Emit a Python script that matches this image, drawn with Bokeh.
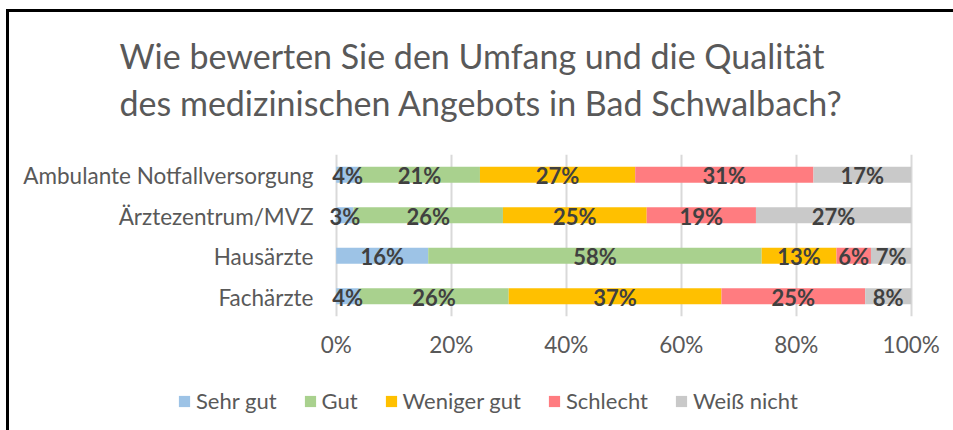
from bokeh.plotting import figure
from bokeh.layouts import column
from bokeh.models import (FactorRange, ColumnDataSource, LabelSet, Legend, LegendItem,
                          Title, FixedTicker, Range1d)
from bokeh.core.properties import value
from bokeh.embed import file_html
from bokeh.resources import INLINE

# ---- data ----
categories = ["Ambulante Notfallversorgung", "Ärztezentrum/MVZ", "Hausärzte", "Fachärzte"]
series = ["Sehr gut", "Gut", "Weniger gut", "Schlecht", "Weiß nicht"]
sehr_gut = [4, 3, 16, 4]
gut = [21, 26, 58, 26]
weniger_gut = [27, 25, 13, 37]
schlecht = [31, 19, 6, 25]
weiss_nicht = [17, 27, 7, 8]
colors = ["#9DC3E6", "#A9D18E", "#FFC000", "#FF7C80", "#C9C9C9"]
x_ticks = [0, 20, 40, 60, 80, 100]
x_tick_labels = ["0%", "20%", "40%", "60%", "80%", "100%"]
title_lines = ["Wie bewerten Sie den Umfang und die Qualität",
               "des medizinischen Angebots in Bad Schwalbach?"]

FONT = "Lato"
TXT = "#595959"

values = [sehr_gut, gut, weniger_gut, schlecht, weiss_nicht]
data = {"cat": categories}
for s, v in zip(series, values):
    data[s] = v
source = ColumnDataSource(data)

# frame spans the whole width left of the bars so the category texts fit inside it
PX_PER_UNIT = 5.75
ZERO_PX = 326.7
FRAME_W = 913
x_start = -ZERO_PX / PX_PER_UNIT
x_end = x_start + FRAME_W / PX_PER_UNIT

p = figure(width=944, height=372, output_backend="svg", toolbar_location=None,
           y_range=FactorRange(*reversed(categories)), x_range=(x_start, x_end),
           min_border_left=0, min_border_right=31, min_border_top=142,
           min_border_bottom=68)
p.outline_line_color = None
p.background_fill_color = "white"
p.border_fill_color = "white"

renderers = p.hbar_stack(series, y="cat", height=0.4, color=colors, source=source,
                         line_color=None)

# category texts (left of the 0% line)
cat_src = ColumnDataSource(dict(x=[0] * len(categories), y=categories, t=categories))
p.add_layout(LabelSet(x="x", y="y", text="t", source=cat_src, text_align="right",
                      text_baseline="middle", x_offset=-22.7, y_offset=-1,
                      text_font=value(FONT), text_font_size="22.5px", text_color=TXT))

# data labels
lx, ly, lt = [], [], []
for i, c in enumerate(categories):
    left = 0
    for v in values:
        val = v[i]
        lx.append(left + val / 2)
        ly.append(c)
        lt.append(f"{val}%")
        left += val
lab_src = ColumnDataSource(dict(x=lx, y=ly, t=lt))
p.add_layout(LabelSet(x="x", y="y", text="t", source=lab_src, text_align="center",
                      text_baseline="middle", text_font=value(FONT),
                      text_font_style="bold", text_font_size="22px",
                      text_color="#404040", y_offset=-1))

# axes
p.yaxis.visible = False
p.xaxis.ticker = FixedTicker(ticks=x_ticks)
p.xaxis.major_label_overrides = {t: l for t, l in zip(x_ticks, x_tick_labels)}
ax = p.xaxis[0]
ax.axis_line_color = None
ax.major_tick_line_color = None
ax.minor_tick_line_color = None
ax.major_tick_out = 0
ax.major_tick_in = 0
ax.minor_tick_out = 0
ax.major_label_text_font = FONT
ax.major_label_text_font_size = "22.5px"
ax.major_label_text_color = TXT
ax.major_label_standoff = 14

p.xgrid.ticker = FixedTicker(ticks=x_ticks)
p.xgrid.grid_line_color = "#D9D9D9"
p.xgrid.grid_line_width = 2
p.ygrid.grid_line_color = None

# blank gap between title and plot area
p.add_layout(Title(text=" ", text_font_size="1px", standoff=23), "above")
# title (two lines)
p.add_layout(Title(text="\n".join(title_lines), align="left", offset=110, standoff=10,
                   text_font=FONT, text_font_size="34px", text_font_style="normal",
                   text_line_height=1.15, text_color=TXT), "above")

# legend in its own strip below the chart
p2 = figure(width=944, height=46, output_backend="svg", toolbar_location=None,
            x_range=Range1d(0, 1), y_range=Range1d(0, 1),
            min_border_left=0, min_border_right=31, min_border_top=0, min_border_bottom=0,
            x_axis_type=None, y_axis_type=None)
p2.outline_line_color = None
p2.xgrid.visible = False
p2.ygrid.visible = False
swatches = [p2.hbar(y=[-5], left=[-5], right=[-4], height=1, color=c, line_color=None)
            for c in colors]
legend = Legend(items=[LegendItem(label=s, renderers=[r]) for s, r in zip(series, swatches)],
                orientation="horizontal", location=(168, 16),
                glyph_width=14, glyph_height=14, label_standoff=5, spacing=26,
                padding=0, margin=0, border_line_color=None, background_fill_alpha=0,
                label_text_font=FONT, label_text_font_size="22px",
                label_text_color=TXT)
p2.add_layout(legend, "center")

layout = column(p, p2, spacing=0)
layout.styles = {"border-left": "3px solid black", "border-top": "3px solid black",
                 "margin-left": "6px", "margin-top": "9px"}

open("out.html", "w").write(file_html(layout, INLINE))
